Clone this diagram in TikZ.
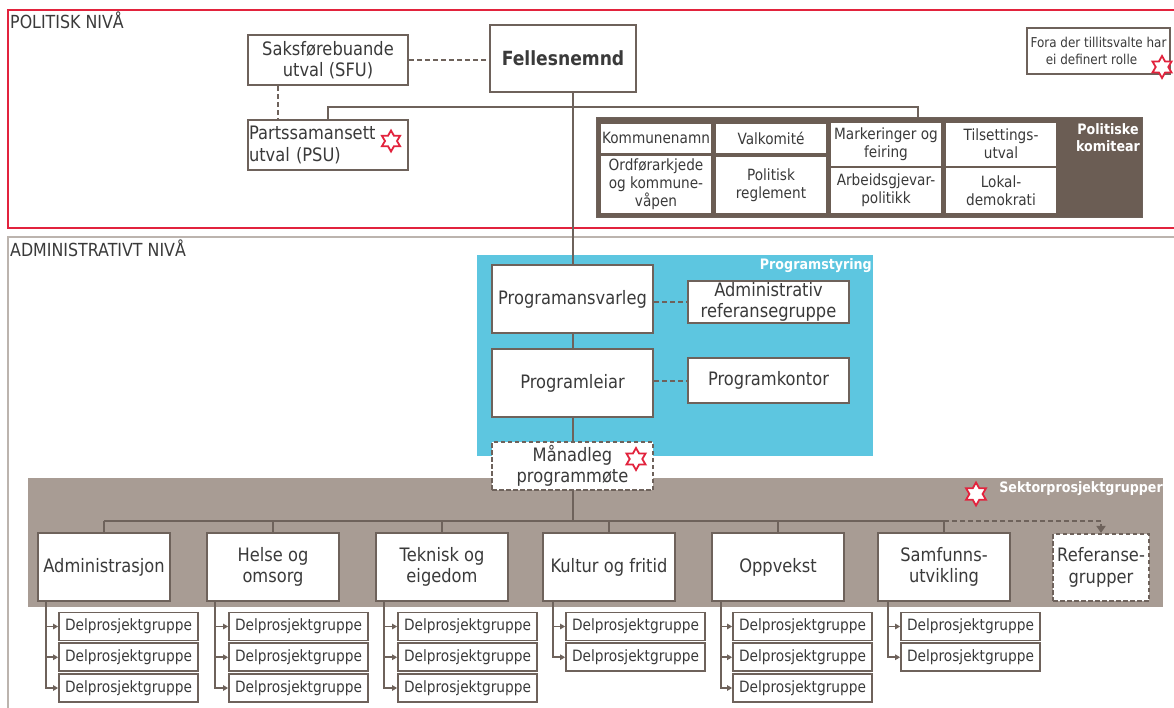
\documentclass[tikz,border=0pt]{standalone}
\usepackage{fontspec}
\setmainfont{DejaVu Sans}[FakeStretch=0.88]
\usetikzlibrary{shapes.geometric,arrows.meta}
\definecolor{lc}{HTML}{6E625B}
\definecolor{redc}{HTML}{E2233D}
\definecolor{cyanc}{HTML}{5DC6E0}
\definecolor{darkf}{HTML}{6B5D54}
\definecolor{sekf}{HTML}{A89C94}
\definecolor{admg}{HTML}{BCB4AE}
\definecolor{txt}{HTML}{3A3A3A}
\newcommand\fsz[2]{\fontsize{#1}{#2}\selectfont}
\tikzset{
  box/.style={draw=lc, line width=2.1pt, fill=white, align=center, inner sep=0pt, text=txt, font=\fsz{18.5}{21.5}},
  dbox/.style={box, dash pattern=on 4.5pt off 2.5pt},
  kbox/.style={fill=white, draw=none, align=center, inner sep=0pt, text=txt, font=\fsz{15.5}{18}},
  delbox/.style={box, line width=1.8pt, minimum width=139pt, minimum height=28pt, font=\fsz{15.6}{18}},
  conn/.style={draw=lc, line width=2pt},
  dconn/.style={conn, dash pattern=on 5pt off 3pt},
  arr/.style={conn, line width=1.6pt, -{Triangle[length=5pt,width=5.5pt]}},
  hexstar/.style={star, star points=6, star point ratio=1.75, draw=redc, fill=white, line width=1.8pt, inner sep=0pt, minimum size=#1},
  lbl/.style={text=white, font=\bfseries\fsz{14.4}{17}, inner sep=1pt},
  lvl/.style={anchor=north west, inner sep=0pt, text=txt, font=\fsz{18}{20}}
}
\begin{document}
\begin{tikzpicture}[x=1pt,y=-1pt]
\useasboundingbox (0,0) rectangle (1174,707);
\fill[white] (0,0) rectangle (1174,707);
% level frames
\draw[redc, line width=2pt] (1176,10) -- (8,10) -- (8,228) -- (1176,228);
\draw[admg, line width=2.2pt] (1176,237) -- (8,237) -- (8,709);
\node[lvl] (pn) at (10,12) {POLITISK NIVÅ};
\node[lvl] (an) at (10,240) {ADMINISTRATIVT NIVÅ};
% background panels
\node[fill=darkf, draw=lc, line width=1pt, minimum width=546pt, minimum height=100pt, inner sep=0pt] (kom) at (869,167) {};
\node[fill=cyanc, draw=none, minimum width=396pt, minimum height=201pt, inner sep=0pt] (ps) at (675,355.5) {};
\node[fill=sekf, draw=none, minimum width=1135pt, minimum height=129pt, inner sep=0pt] (sek) at (595.5,542.5) {};
% political level
\node[box, minimum width=160pt, minimum height=50pt] (sfu) at (328,60) {Saksførebuande\\utval (SFU)};
\node[box, minimum width=146pt, minimum height=67pt, font=\bfseries\fsz{19.5}{22}] (fel) at (563,58.5) {Fellesnemnd};
\node[box, minimum width=160pt, minimum height=50pt, align=left, text width=158pt, inner xsep=1pt] (psu) at (328,145) {Partssamansett\\utval (PSU)};
\node[hexstar=21pt] (psustar) at (391,141) {};
\node[box, minimum width=143pt, minimum height=46pt, font=\fsz{13.6}{16.5}] (fora) at (1098.5,51) {Fora der tillitsvalte har\\ei definert rolle\hspace*{14pt}};
\node[hexstar=22pt] (forastar) at (1162,67) {};
% komitear
\node[kbox, minimum width=110pt, minimum height=29pt] (k1) at (656,138) {Kommunenamn};
\node[kbox, minimum width=110pt, minimum height=57pt] (k2) at (656,184) {Ordførarkjede\\og kommune-\\våpen};
\node[kbox, minimum width=110pt, minimum height=29pt] (k3) at (771,138) {Valkomité};
\node[kbox, minimum width=110pt, minimum height=56pt] (k4) at (771,185) {Politisk\\reglement};
\node[kbox, minimum width=110pt, minimum height=43pt] (k5) at (886,144) {Markeringer og\\feiring};
\node[kbox, minimum width=110pt, minimum height=45pt] (k6) at (886,190.5) {Arbeidsgjevar-\\politikk};
\node[kbox, minimum width=110pt, minimum height=43pt] (k7) at (1001,144) {Tilsettings-\\utval};
\node[kbox, minimum width=110pt, minimum height=45pt] (k8) at (1001,190.5) {Lokal-\\demokrati};
\node[lbl, align=center] (komlbl) at (1108,138) {Politiske\\komitear};
% programstyring
\node[lbl, anchor=north east] (pslbl) at (873,257) {Programstyring};
\node[box, minimum width=161pt, minimum height=68pt] (pa) at (572.5,299) {Programansvarleg};
\node[box, minimum width=161pt, minimum height=42pt] (arg) at (768.5,302) {Administrativ\\referansegruppe};
\node[box, minimum width=161pt, minimum height=68pt] (pl) at (572.5,383) {Programleiar};
\node[box, minimum width=161pt, minimum height=45pt] (pk) at (768.5,380.5) {Programkontor};
\node[dbox, minimum width=161pt, minimum height=48pt] (man) at (572.5,466) {Månadleg\\programmøte};
\node[hexstar=22pt] (manstar) at (636,459) {};
% sektor
\node[lbl, anchor=north east] (seklbl) at (1164,480) {Sektorprosjektgrupper};
\node[hexstar=23pt] (sekstar) at (976,494) {};
\node[box, minimum width=132pt, minimum height=68pt] (adm) at (104,567) {Administrasjon};
\node[box, minimum width=132pt, minimum height=68pt] (hel) at (273,567) {Helse og\\omsorg};
\node[box, minimum width=132pt, minimum height=68pt] (tek) at (442,567) {Teknisk og\\eigedom};
\node[box, minimum width=132pt, minimum height=68pt] (kul) at (609,567) {Kultur og fritid};
\node[box, minimum width=132pt, minimum height=68pt] (opp) at (778,567) {Oppvekst};
\node[box, minimum width=132pt, minimum height=68pt] (sam) at (944,567) {Samfunns-\\utvikling};
\node[dbox, minimum width=96pt, minimum height=67pt] (ref) at (1101,567.5) {Referanse-\\grupper};
% political connectors
\coordinate (kj) at (918,107);
\coordinate (sx) at (278,0);
\draw[conn] (fel.south -| pa.north) -- (pa.north);
\draw[conn] (psu.north) |- (kj) -- (kj |- kom.north);
\draw[dconn] (sfu.east) -- (fel.west |- sfu.east);
\draw[dconn] (sfu.south -| sx) -- (psu.north -| sx);
% programstyring connectors
\draw[conn] (pa.south) -- (pl.north);
\draw[conn] (pl.south) -- (man.north);
\draw[dconn] (pa.east |- arg.west) -- (arg.west);
\draw[dconn] (pl.east |- pk.west) -- (pk.west);
% sector tree
\coordinate (hl) at (0,521);
\draw[conn] (man.south) -- (man.south |- hl);
\draw[conn] (adm.north |- hl) -- (sam.north |- hl);
\foreach \c in {adm,hel,tek,kul,opp,sam}{
  \draw[conn] (\c.north |- hl) -- (\c.north);
}
\draw[dconn, -{Triangle[length=7pt,width=9pt]}] (sam.north |- hl) -| (ref.north);
% delprosjektgrupper
\foreach \c/\lx/\bx/\n in {adm/46/128.5/3, hel/215/298.5/3, tek/384/467.5/3, kul/553/635.5/2, opp/721/802.5/3, sam/888/970.5/2}{
  \coordinate (lx-\c) at (\lx,0);
  \foreach \r in {1,...,\n}{
    \pgfmathsetmacro\ry{626.5+(\r-1)*30.75}
    \node[delbox] (dp-\c-\r) at (\bx,\ry) {Delprosjektgruppe};
    \draw[arr] (\c.south -| lx-\c) |- (dp-\c-\r.west);
  }
}
\end{tikzpicture}
\end{document}
